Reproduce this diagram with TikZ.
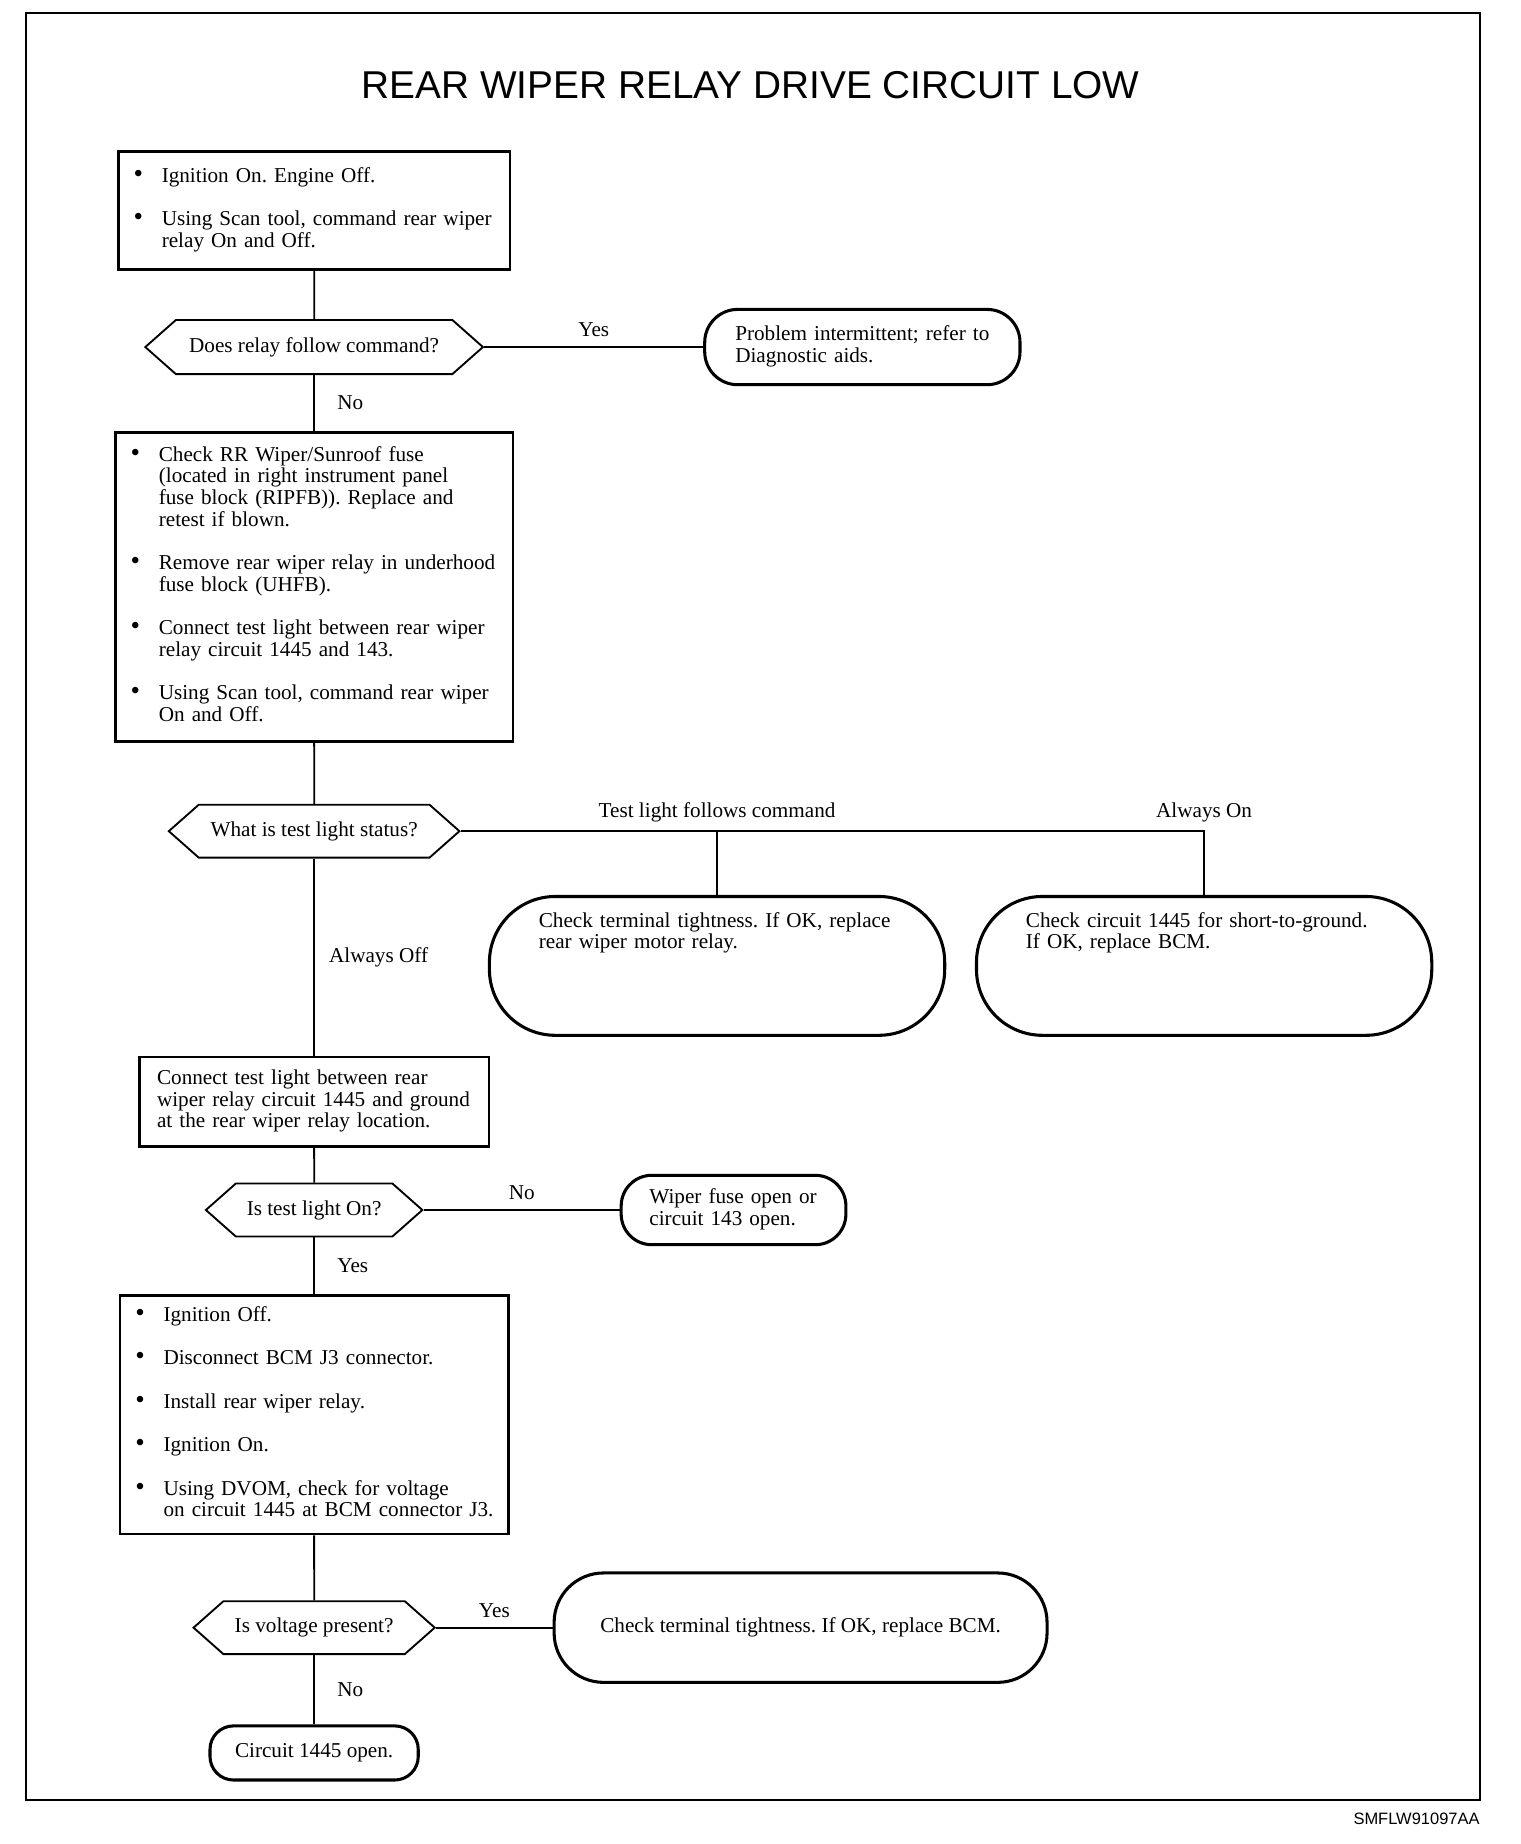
\documentclass[tikz,border=0pt]{standalone}
\usepackage{fontspec}
\setmainfont{Liberation Serif}
\newfontfamily\titlefont{Liberation Sans}
\usetikzlibrary{positioning, shapes.symbols}
\newcommand{\stepfont}{\fontsize{9}{9.2}\selectfont\frenchspacing\lineskip=0pt}
\newcommand{\stepbullet}{{\fontsize{11.5}{9.2}\selectfont\textbullet}}
\newcommand{\steplines}[1]{\begin{tabular}[t]{@{}l@{}}#1\end{tabular}}
\newcommand{\stepitem}[1]{\noindent\makebox[13pt][l]{\hspace{1pt}\stepbullet}\steplines{#1}\par}
\newcommand{\stepgap}{\vspace{9.3pt}}
\tikzset{
  stepbox/.style={
    draw, rectangle, line width=1.1pt,
    inner xsep=5.5pt, inner ysep=4pt, align=left, font=\stepfont
  },
  decision/.style={
    draw, signal, signal to=east and west, signal pointer angle=83,
    line width=0.8pt, inner sep=2pt, minimum height=22.5pt, font=\stepfont
  },
  terminal/.style={
    draw, rectangle, rounded corners=#1, line width=1.3pt,
    inner ysep=4pt, align=left, font=\stepfont
  },
  terminal/.default=12pt,
  line/.style={line width=0.75pt},
  answer/.style={font=\stepfont, inner sep=2pt}
}
\begin{document}
\begin{tikzpicture}[x=0.5pt, y=-0.5pt]
  \useasboundingbox (0,0) rectangle (1292,1567.4);
  \draw[line width=0.8pt] (22,11) rectangle (1258,1530);
  \node[font=\titlefont\fontsize{16.5}{18}\selectfont] (title) at (638,72) {REAR WIPER RELAY DRIVE CIRCUIT LOW};
  \node[font=\titlefont\fontsize{7}{8}\selectfont, anchor=east, inner sep=0pt] (code) at (1258,1546) {SMFLW91097AA};

  % main column
  \node[stepbox, text width=155.5pt, minimum height=50pt] (ignition) at (267,179)
    {\stepitem{Ignition On. Engine Off.}\stepgap
     \stepitem{Using Scan tool, command rear wiper\\relay On and Off.}};
  \node[decision, minimum width=143.5pt, minimum height=23pt] (follow) at (267,295) {Does relay follow command?};
  \node[stepbox, text width=158pt, minimum height=131.5pt] (fuse) at (267,499)
    {\stepitem{Check RR Wiper/Sunroof fuse\\(located in right instrument panel\\fuse block (RIPFB)). Replace and\\retest if blown.}\stepgap
     \stepitem{Remove rear wiper relay in underhood\\fuse block (UHFB).}\stepgap
     \stepitem{Connect test light between rear wiper\\relay circuit 1445 and 143.}\stepgap
     \stepitem{Using Scan tool, command rear wiper\\On and Off.}};
  \node[decision, minimum width=123.5pt] (status) at (267,706.5) {What is test light status?};
  \node[stepbox, inner xsep=7.5pt, text width=133.5pt, minimum height=38pt] (ground) at (267,936.5)
    {\steplines{Connect test light between rear\\wiper relay circuit 1445 and ground\\at the rear wiper relay location.}};
  \node[decision, minimum width=92pt] (lighton) at (267,1028.5) {Is test light On?};
  \node[stepbox, text width=154pt, minimum height=101.5pt] (dvom) at (267,1202.5)
    {\stepitem{Ignition Off.}\stepgap
     \stepitem{Disconnect BCM J3 connector.}\stepgap
     \stepitem{Install rear wiper relay.}\stepgap
     \stepitem{Ignition On.}\stepgap
     \stepitem{Using DVOM, check for voltage\\on circuit 1445 at BCM connector J3.}};
  \node[decision, minimum width=102.5pt] (voltage) at (267,1383.5) {Is voltage present?};
  \node[terminal=10pt, minimum width=88.5pt, minimum height=23pt, align=center] (open) at (267,1490) {Circuit 1445 open.};

  % outcomes
  \node[terminal=14pt, inner xsep=13pt, text width=108pt, minimum height=32pt] (intermit) at (733,295)
    {\steplines{Problem intermittent; refer to\\Diagnostic aids.}};
  \node[terminal=28pt, inner xsep=21pt, inner ysep=6pt, text width=151.5pt, text height=7pt, text depth=40pt] (relay) at (609.5,821)
    {\steplines{Check terminal tightness. If OK, replace\\rear wiper motor relay.}};
  \node[terminal=28pt, inner xsep=21pt, inner ysep=6pt, text width=151.5pt, text height=7pt, text depth=40pt] (short) at (1023.5,821)
    {\steplines{Check circuit 1445 for short-to-ground.\\If OK, replace BCM.}};
  \node[terminal=13pt, inner xsep=12pt, text width=71.5pt, minimum height=29.5pt] (wfuse) at (623.5,1028.5)
    {\steplines{Wiper fuse open or\\circuit 143 open.}};
  \node[terminal=21pt, minimum width=209.5pt, minimum height=46.5pt, align=center] (bcm) at (680.5,1383.5)
    {Check terminal tightness. If OK, replace BCM.};

  \draw[line] (ignition) -- (follow);
  \draw[line] (follow.east) -- node[answer, above=2pt] {Yes} (intermit.west);
  \draw[line] (follow.south) -- node[answer, right=7.5pt] {No} (fuse.north);
  \draw[line] (fuse) -- (status);
  \draw[line] (status.east) -| node[answer, pos=0.5, above=1.5pt] {Always On} (short.north);
  \draw[line] (relay.north |- status.east) -- node[answer, pos=0, above=1.5pt] {Test light follows command} (relay.north);
  \draw[line] (status.south) -- node[answer, right=4pt] {Always Off} (ground.north);
  \draw[line] (ground) -- (lighton);
  \draw[line] (lighton.east) -- node[answer, above=2pt] {No} (wfuse.west);
  \draw[line] (lighton.south) -- node[answer, right=7.5pt] {Yes} (dvom.north);
  \draw[line] (dvom) -- (voltage);
  \draw[line] (voltage.east) -- node[answer, above=2pt] {Yes} (bcm.west);
  \draw[line] (voltage.south) -- node[answer, right=7.5pt] {No} (open.north);
\end{tikzpicture}
\end{document}
